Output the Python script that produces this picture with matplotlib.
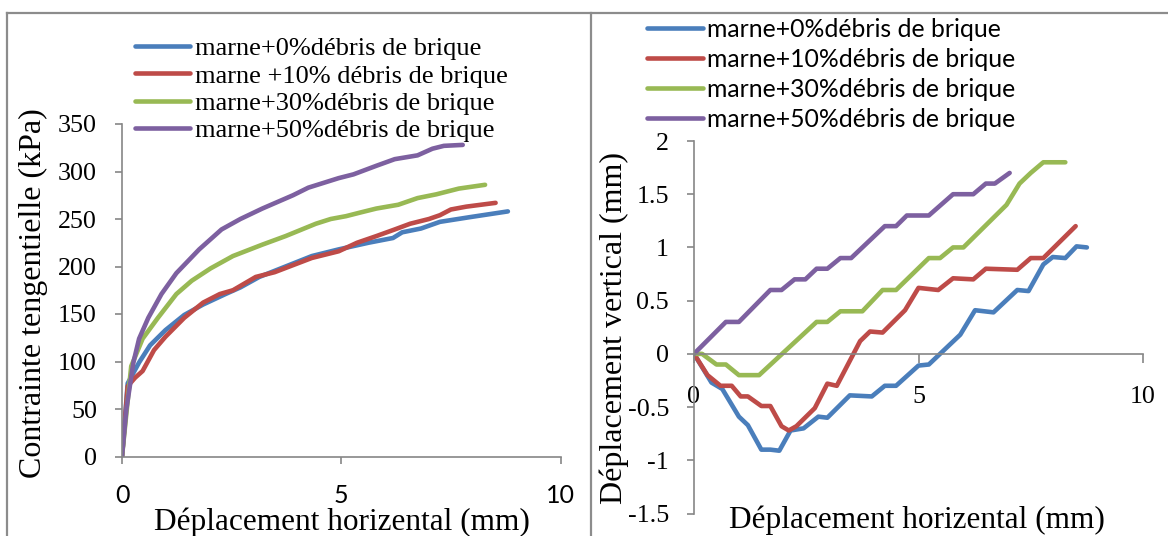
import matplotlib
matplotlib.use("Agg")
import matplotlib.pyplot as plt
from matplotlib.lines import Line2D

# ---- data -------------------------------------------------------------
labels_left = ["marne+0%débris de brique", "marne +10% débris de brique",
               "marne+30%débris de brique", "marne+50%débris de brique"]
labels_right = ["marne+0%débris de brique", "marne+10%débris de brique",
                "marne+30%débris de brique", "marne+50%débris de brique"]
colors = ["#4A7EBB", "#BE4B48", "#98B954", "#7D60A0"]

# shear stress (kPa) vs horizontal displacement (mm)
tau_x0 = [0, 0.13, 0.39, 0.64, 0.99, 1.42, 1.85, 2.36, 2.7, 3.13, 3.73, 4.33,
          4.94, 5.62, 6.18, 6.39, 6.82, 7.25, 7.94, 8.8]
tau_y0 = [0, 77, 99, 117, 133, 149, 160, 171, 178, 189, 200, 211, 218, 225,
          230, 236, 240, 247, 252, 258]
tau_x10 = [0, 0.13, 0.3, 0.47, 0.73, 0.99, 1.42, 1.85, 2.23, 2.53, 2.79, 3.05,
           3.48, 3.99, 4.33, 4.94, 5.36, 5.8, 6.22, 6.57, 7.0, 7.25, 7.5, 7.85, 8.52]
tau_y10 = [0, 74, 83, 90, 112, 126, 146, 162, 171, 175, 182, 189, 194, 203,
           209, 216, 225, 232, 239, 245, 250, 254, 260, 263, 267]
tau_x30 = [0, 0.21, 0.47, 0.82, 1.24, 1.59, 2.02, 2.53, 3.2, 3.73, 4.42, 4.76,
           5.11, 5.45, 5.8, 6.3, 6.74, 7.17, 7.68, 8.28]
tau_y30 = [0, 95, 124, 146, 171, 185, 198, 211, 223, 232, 245, 250, 253, 257,
           261, 265, 272, 276, 282, 286]
tau_x50 = [0, 0.1, 0.26, 0.39, 0.6, 0.9, 1.24, 1.76, 2.27, 2.7, 3.2, 3.9, 4.25,
           4.94, 5.28, 5.8, 6.22, 6.74, 7.08, 7.34, 7.77]
tau_y50 = [0, 50, 99, 124, 146, 171, 193, 218, 239, 250, 261, 275, 283, 293,
           297, 306, 313, 317, 324, 327, 328]

# vertical displacement (mm) vs horizontal displacement (mm)
dv_x0 = [0, 0.39, 0.63, 1.0, 1.2, 1.5, 1.7, 1.9, 2.15, 2.44, 2.77, 2.97, 3.47,
         3.96, 4.25, 4.5, 5.0, 5.23, 5.93, 6.26, 6.67, 7.2, 7.45, 7.78, 7.99,
         8.27, 8.52, 8.75]
dv_y0 = [0, -0.27, -0.33, -0.59, -0.67, -0.9, -0.9, -0.91, -0.72, -0.7, -0.59,
         -0.6, -0.39, -0.4, -0.3, -0.3, -0.11, -0.1, 0.18, 0.41, 0.39, 0.6,
         0.59, 0.84, 0.91, 0.9, 1.01, 1.0]
dv_x10 = [0, 0.3, 0.59, 0.84, 1.04, 1.2, 1.5, 1.7, 1.95, 2.11, 2.28, 2.69, 2.97,
          3.18, 3.7, 3.92, 4.2, 4.7, 5.0, 5.44, 5.77, 6.22, 6.5, 7.2, 7.5, 7.78, 8.5]
dv_y10 = [0, -0.2, -0.3, -0.3, -0.4, -0.4, -0.49, -0.49, -0.68, -0.72, -0.68,
          -0.51, -0.28, -0.3, 0.12, 0.21, 0.2, 0.41, 0.62, 0.6, 0.71, 0.7, 0.8,
          0.79, 0.9, 0.9, 1.2]
dv_x30 = [0, 0.18, 0.5, 0.71, 1.0, 1.45, 2.73, 2.97, 3.26, 3.75, 4.2, 4.5, 5.23,
          5.48, 5.77, 6.0, 6.96, 7.25, 7.5, 7.78, 8.27]
dv_y30 = [0, 0, -0.1, -0.1, -0.2, -0.2, 0.3, 0.3, 0.4, 0.4, 0.6, 0.6, 0.9, 0.9,
          1.0, 1.0, 1.4, 1.6, 1.7, 1.8, 1.8]
dv_x50 = [0, 0.71, 1.0, 1.7, 1.95, 2.24, 2.48, 2.73, 2.97, 3.26, 3.5, 4.25, 4.5,
          4.74, 5.23, 5.77, 6.22, 6.5, 6.7, 7.03]
dv_y50 = [0, 0.3, 0.3, 0.6, 0.6, 0.7, 0.7, 0.8, 0.8, 0.9, 0.9, 1.2, 1.2, 1.3,
          1.3, 1.5, 1.5, 1.6, 1.6, 1.7]

x_ticks = [0, 5, 10]
tau_ticks = [0, 50, 100, 150, 200, 250, 300, 350]
dv_ticks = [-1.5, -1, -0.5, 0, 0.5, 1, 1.5, 2]

# ---- styling ----------------------------------------------------------
SERIF = "Liberation Serif"
SANS = "Lato"
GREY = "#868686"
LW = 3.3
W, H = 1168, 536

fig = plt.figure(figsize=(W / 100, H / 100), dpi=100)


def fx(px):
    return px / W


def fy(py):
    return 1 - py / H


def style_axes(ax):
    for s in ("top", "right"):
        ax.spines[s].set_visible(False)
    for s in ("left", "bottom"):
        ax.spines[s].set_color(GREY)
        ax.spines[s].set_linewidth(1.2)
    ax.tick_params(axis="both", direction="out", length=5, width=1.2, color=GREY)


def fmt_num(v):
    return f"{v:g}"


# ---- left panel: shear stress ---------------------------------------
axL = fig.add_axes([fx(122), fy(456.5), (560.5 - 122) / W, (456.5 - 124) / H])
style_axes(axL)
tau_series = [(tau_x0, tau_y0), (tau_x10, tau_y10), (tau_x30, tau_y30), (tau_x50, tau_y50)]
for (xs, ys), c, lab in zip(tau_series, colors, labels_left):
    axL.plot(xs, ys, color=c, lw=LW, solid_capstyle="round",
             solid_joinstyle="round", label=lab)
axL.set_xlim(0, 10)
axL.set_ylim(0, 350)
axL.set_xticks(x_ticks)
axL.set_xticklabels([fmt_num(v) for v in x_ticks], fontfamily=SANS, fontsize=18)
axL.set_yticks(tau_ticks)
axL.set_yticklabels([fmt_num(v) for v in tau_ticks], fontfamily=SERIF, fontsize=18.7)
axL.tick_params(axis="x", pad=15)
axL.tick_params(axis="y", pad=13)
axL.set_xlabel("Déplacement horizental (mm)", fontfamily=SERIF, fontsize=22.5, va="center")
axL.xaxis.set_label_coords(0.501, -0.198)
axL.set_ylabel("Contrainte tengentielle (kPa)", fontfamily=SERIF, fontsize=23, va="center")
axL.yaxis.set_label_coords(-0.201, 0.4925)
fig.legend(*axL.get_legend_handles_labels(), loc="upper left",
           bbox_to_anchor=(fx(135), fy(37)), frameon=False,
           prop={"family": SERIF, "size": 19}, handlelength=2.1,
           handletextpad=0.18, labelspacing=0.14, borderpad=0,
           borderaxespad=0)

# ---- right panel: vertical displacement ------------------------------
axR = fig.add_axes([fx(694), fy(513.5), (1143 - 694) / W, (513.5 - 141) / H])
style_axes(axR)
axR.spines["bottom"].set_position(("data", 0))
dv_series = [(dv_x0, dv_y0), (dv_x10, dv_y10), (dv_x30, dv_y30), (dv_x50, dv_y50)]
for (xs, ys), c, lab in zip(dv_series, colors, labels_right):
    axR.plot(xs, ys, color=c, lw=LW, solid_capstyle="round",
             solid_joinstyle="round", label=lab)
axR.set_xlim(0, 10)
axR.set_ylim(-1.5, 2)
axR.set_xticks(x_ticks)
axR.set_xticklabels([fmt_num(v) for v in x_ticks], fontfamily=SERIF, fontsize=18.7)
axR.set_yticks(dv_ticks)
axR.set_yticklabels([fmt_num(v) for v in dv_ticks], fontfamily=SERIF, fontsize=18.7)
axR.tick_params(axis="x", pad=17, length=6.5)
axR.tick_params(axis="y", pad=13)
axR.set_xlabel("Déplacement horizental (mm)", fontfamily=SERIF, fontsize=22.5, va="center")
axR.xaxis.set_label_coords(0.497, -0.0175)
axR.set_ylabel("Déplacement vertical (mm)", fontfamily=SERIF, fontsize=23, va="center")
axR.yaxis.set_label_coords(-0.178, 0.498)
fig.legend(*axR.get_legend_handles_labels(), loc="upper left",
           bbox_to_anchor=(fx(647), fy(18)), frameon=False,
           prop={"family": SANS, "size": 17.8}, handlelength=2.25,
           handletextpad=0.17, labelspacing=0.28, borderpad=0,
           borderaxespad=0)

# ---- panel frames ------------------------------------------------------
frame_kw = dict(color="#8C8C8C", lw=1.6, transform=fig.transFigure)
fig.add_artist(Line2D([fx(7), fx(W)], [fy(13), fy(13)], **frame_kw))
fig.add_artist(Line2D([fx(7), fx(7)], [fy(13), 0], **frame_kw))
fig.add_artist(Line2D([fx(591), fx(591)], [fy(13), 0], **frame_kw))

fig.savefig("out.png", dpi=100)
